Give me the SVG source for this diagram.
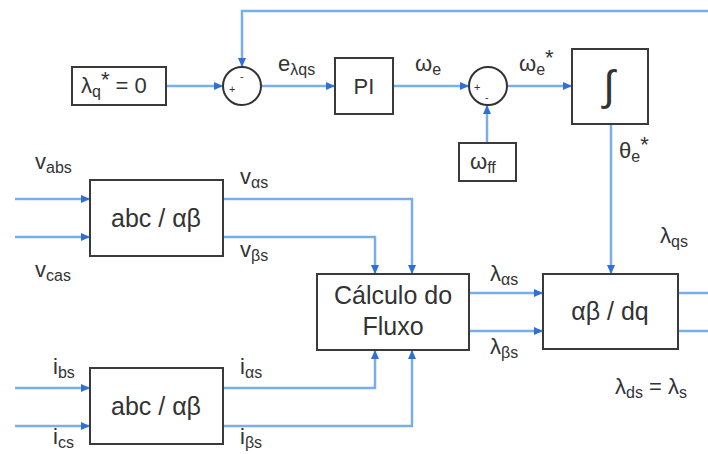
<svg xmlns="http://www.w3.org/2000/svg" width="708" height="454" viewBox="0 0 708 454">
<style>
.box{fill:#fff;stroke:#3a3a3a;stroke-width:2}
.c{fill:none;stroke:#78aeea;stroke-width:2.5;marker-end:url(#ah)}
.n{fill:none;stroke:#78aeea;stroke-width:2.5}
text{font-family:"Liberation Sans",Arial,sans-serif;fill:#333;font-size:22px}
.s{font-size:16px}
.m{text-anchor:middle}
.big{font-size:25px}
.sg{font-size:11px}
</style>
<defs>
<marker id="ah" markerUnits="userSpaceOnUse" markerWidth="10" markerHeight="10" viewBox="0 0 10 10" refX="9" refY="5" orient="auto">
<path d="M0,1 L9,5 L0,9 z" fill="#2f6fd6"/>
</marker>
</defs>
<rect width="708" height="454" fill="#fff"/>
<g id="connectors">
<path class="c" d="M166,86 H223"/>
<path class="c" d="M708,11 H242 V67"/>
<path class="c" d="M261,86 H335"/>
<path class="c" d="M393,86 H469"/>
<path class="c" d="M507,86 H572"/>
<path class="c" d="M487,143 V105"/>
<path class="c" d="M611,124 V274"/>
<path class="c" d="M15,199 H90"/>
<path class="c" d="M15,237 H90"/>
<path class="c" d="M223,199 H412 V274"/>
<path class="c" d="M223,237 H375 V274"/>
<path class="c" d="M15,388 H90"/>
<path class="c" d="M15,426 H90"/>
<path class="c" d="M223,388 H375 V350"/>
<path class="c" d="M223,426 H412 V350"/>
<path class="c" d="M469,293 H543"/>
<path class="c" d="M469,331 H543"/>
<path class="n" d="M678,293 H708"/>
<path class="n" d="M678,331 H708"/>
</g>
<g id="lambda_ref">
<rect class="box" x="72" y="67" width="94" height="38"/>
<text x="81" y="93">λ<tspan class="s" dy="4">q</tspan><tspan dy="-10">*</tspan><tspan dy="6"> = 0</tspan></text>
</g>
<g id="sum1">
<circle cx="242" cy="86" r="19" fill="#fff" stroke="#333" stroke-width="2"/>
<text class="sg" x="229" y="93">+</text>
<text class="sg" x="240" y="80">-</text>
</g>
<g id="pi">
<rect class="box" x="335" y="58" width="58" height="56"/>
<text class="m" x="364" y="94">PI</text>
</g>
<g id="sum2">
<circle cx="488" cy="86" r="19" fill="#fff" stroke="#333" stroke-width="2"/>
<text class="sg" x="474" y="91">+</text>
<text class="sg" x="485" y="101">-</text>
</g>
<g id="integrator">
<rect class="box" x="572" y="49" width="76" height="75"/>
<text class="m" x="609" y="100" style="font-size:42px;font-weight:300">∫</text>
</g>
<g id="wff">
<rect class="box" x="459" y="143" width="57" height="38"/>
<text x="470" y="169">ω<tspan class="s" dy="4">ff</tspan></text>
</g>
<g id="abc1">
<rect class="box" x="90" y="180" width="133" height="76"/>
<text class="m big" x="156" y="227">abc / αβ</text>
</g>
<g id="abc2">
<rect class="box" x="90" y="368" width="133" height="76"/>
<text class="m big" x="156" y="415">abc / αβ</text>
</g>
<g id="fluxo">
<rect class="box" x="317" y="274" width="152" height="76"/>
<text class="m big" x="393" y="304">Cálculo do</text>
<text class="m big" x="393" y="335">Fluxo</text>
</g>
<g id="abdq">
<rect class="box" x="543" y="274" width="135" height="75"/>
<text class="m big" x="610" y="320">αβ / dq</text>
</g>
<g id="labels">
<text x="278" y="71">e<tspan class="s" dy="4">λqs</tspan></text>
<text x="415" y="71">ω<tspan class="s" dy="4">e</tspan></text>
<text x="519" y="71">ω<tspan class="s" dy="4">e</tspan><tspan dy="-10">*</tspan></text>
<text x="619" y="158">θ<tspan class="s" dy="4">e</tspan><tspan dy="-10">*</tspan></text>
<text x="35" y="169">v<tspan class="s" dy="4">abs</tspan></text>
<text x="35" y="277">v<tspan class="s" dy="4">cas</tspan></text>
<text x="240" y="184">v<tspan class="s" dy="4">αs</tspan></text>
<text x="240" y="257">v<tspan class="s" dy="4">βs</tspan></text>
<text x="490" y="281">λ<tspan class="s" dy="4">αs</tspan></text>
<text x="490" y="354">λ<tspan class="s" dy="4">βs</tspan></text>
<text x="660" y="243">λ<tspan class="s" dy="4">qs</tspan></text>
<text x="615" y="394">λ<tspan class="s" dy="4">ds</tspan><tspan dy="-4"> = λ</tspan><tspan class="s" dy="4">s</tspan></text>
<text x="53" y="374">i<tspan class="s" dy="4">bs</tspan></text>
<text x="53" y="444">i<tspan class="s" dy="4">cs</tspan></text>
<text x="240" y="374">i<tspan class="s" dy="4">αs</tspan></text>
<text x="240" y="444">i<tspan class="s" dy="4">βs</tspan></text>
</g>
</svg>
